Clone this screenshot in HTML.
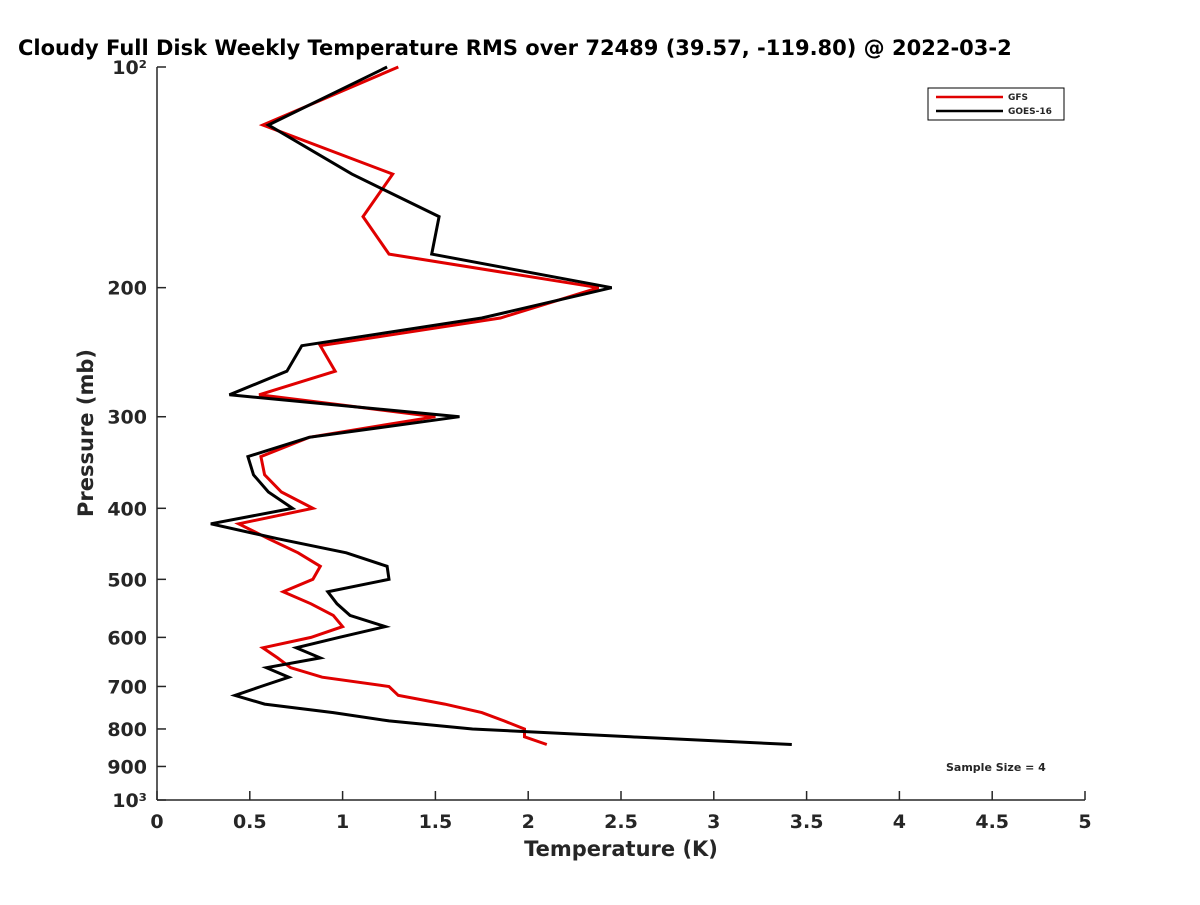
<!DOCTYPE html>
<html><head><meta charset="utf-8"><style>
body{margin:0;background:#fff}
svg text{font-family:"DejaVu Sans","Liberation Sans",sans-serif;font-weight:bold;fill:#262626}
</style></head><body>
<svg id="chart" width="1200" height="900" xmlns="http://www.w3.org/2000/svg">
<rect width="1200" height="900" fill="#fff"/>
<text x="18" y="55" font-size="21" fill="#000" style="fill:#000">Cloudy Full Disk Weekly Temperature RMS over 72489 (39.57, -119.80) @ 2022-03-2</text>
<g id="axes"></g>
<g id="series"></g>
<g>
<rect x="928" y="88" width="136" height="32" fill="#fff" stroke="#000" stroke-width="1"/>
<line x1="936" y1="97" x2="1003" y2="97" stroke="#e00000" stroke-width="2.5"/>
<text x="1008" y="100" font-size="9">GFS</text>
<line x1="936" y1="111" x2="1003" y2="111" stroke="#000" stroke-width="2.5"/>
<text x="1008" y="114" font-size="9">GOES-16</text>
</g>
<text x="946" y="771" font-size="11">Sample Size = 4</text>
<text x="621" y="856" font-size="21" text-anchor="middle">Temperature (K)</text>
<text transform="translate(93,433) rotate(-90)" font-size="21" text-anchor="middle">Pressure (mb)</text>
</svg>
<script>
const pressures=[100,120,140,160,180,200,220,240,260,280,300,320,340,360,380,400,420,440,460,480,500,520,540,560,580,600,620,640,660,680,700,720,740,760,780,800,820,840];
const gfsValues=[1.30,0.57,1.27,1.11,1.25,2.38,1.85,0.88,0.96,0.55,1.50,0.82,0.56,0.58,0.67,0.84,0.44,0.60,0.76,0.88,0.84,0.68,0.83,0.95,1.00,0.83,0.57,0.65,0.72,0.89,1.25,1.30,1.55,1.75,1.87,1.98,1.98,2.10];
const goesValues=[1.24,0.60,1.05,1.52,1.48,2.45,1.75,0.78,0.70,0.39,1.63,0.82,0.49,0.52,0.60,0.73,0.29,0.65,1.02,1.24,1.25,0.92,0.97,1.04,1.23,0.98,0.75,0.88,0.59,0.71,0.56,0.42,0.58,0.95,1.25,1.70,2.55,3.42];
const xTicks=[0,0.5,1,1.5,2,2.5,3,3.5,4,4.5,5];
const xTickLabels=["0","0.5","1","1.5","2","2.5","3","3.5","4","4.5","5"];
const yTicks=[100,200,300,400,500,600,700,800,900,1000];
const yTickLabels=["10²","200","300","400","500","600","700","800","900","10³"];
const X0=157,X1=1085,Y0=67,Y1=800;
const xs=v=>X0+(v-0)/(5-0)*(X1-X0);
const ys=p=>Y0+(Math.log10(p)-2)*(Y1-Y0);
const NS="http://www.w3.org/2000/svg";
const axes=document.getElementById('axes'),ser=document.getElementById('series');
function mk(t,a,parent){const e=document.createElementNS(NS,t);for(const k in a)e.setAttribute(k,a[k]);parent.appendChild(e);return e;}
const xa=mk('line',{x1:X0,y1:Y1,x2:X1,y2:Y1,stroke:'#262626','stroke-width':1.5},axes);


const ya=mk('line',{x1:X0,y1:Y0,x2:X0,y2:Y1,stroke:'#262626','stroke-width':1.5},axes);


xTicks.forEach((v,i)=>{
 mk('line',{x1:xs(v),y1:Y1,x2:xs(v),y2:Y1-9,stroke:'#262626','stroke-width':1.5},axes);
 const t=mk('text',{x:xs(v),y:Y1+28,'font-size':19,'text-anchor':'middle'},axes);
 t.textContent=xTickLabels[i];
 
 
});
yTicks.forEach((p,i)=>{
 mk('line',{x1:X0,y1:ys(p),x2:X0+9,y2:ys(p),stroke:'#262626','stroke-width':1.5},axes);
 const t=mk('text',{x:X0-10,y:ys(p)+7,'font-size':19,'text-anchor':'end'},axes);
 t.textContent=yTickLabels[i];
 
 
});
function line(vals,color,name){
 const pts=vals.map((v,i)=>xs(v).toFixed(1)+','+ys(pressures[i]).toFixed(1)).join(' ');
 const l=mk('polyline',{points:pts,fill:'none',stroke:color,'stroke-width':3,'stroke-linejoin':'miter'},ser);
 
 
}
line(gfsValues,'#e00000','gfs-line');
line(goesValues,'#000000','goes16-line');
</script>
</body></html>
